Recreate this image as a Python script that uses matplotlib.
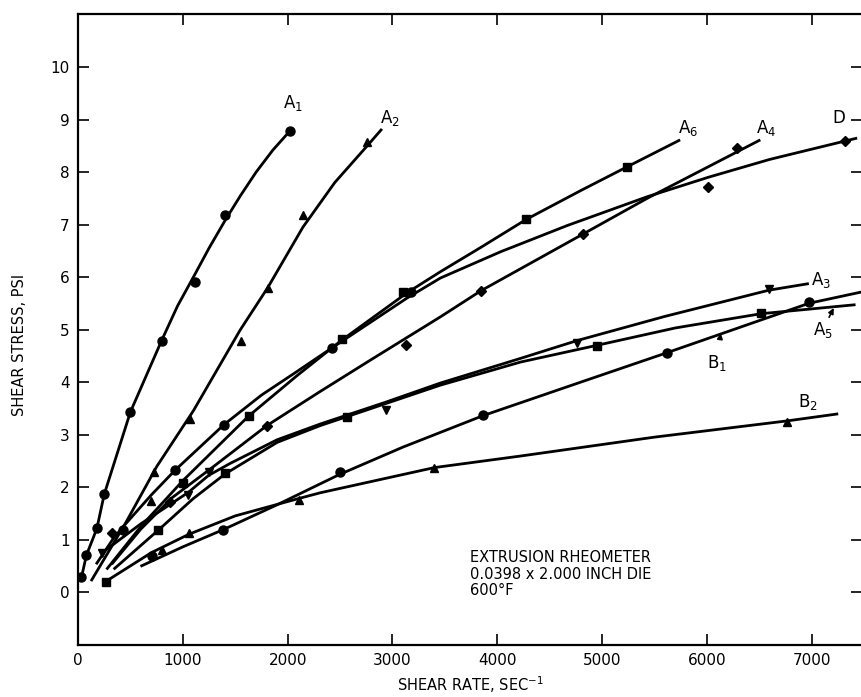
import matplotlib
matplotlib.use("Agg")
import matplotlib.pyplot as plt

plt.rcParams["font.family"] = ["DejaVu Sans"]
plt.rcParams["mathtext.default"] = "regular"

# curve traces (shear rate, shear stress)
a1_x = [30, 80, 180, 250, 500, 800, 950, 1115, 1250, 1404, 1550, 1700, 1860, 2030]
a1_y = [0.25, 0.70, 1.21, 1.86, 3.43, 4.80, 5.45, 6.05, 6.55, 7.08, 7.55, 8.00, 8.42, 8.80]

a2_x = [131, 450, 751, 1100, 1547, 1811, 2146, 2450, 2760, 2891]
a2_y = [0.23, 1.30, 2.39, 3.45, 4.99, 5.80, 6.95, 7.80, 8.50, 8.80]

a6_x = [280, 600, 1000, 1627, 2089, 2518, 3140, 3457, 3840, 4279, 4800, 5240, 5733]
a6_y = [0.45, 1.25, 2.12, 3.35, 4.12, 4.80, 5.70, 6.10, 6.56, 7.10, 7.65, 8.10, 8.60]

d_x = [180, 337, 433, 700, 926, 1394, 1750, 2089, 2423, 3140, 3457, 4031, 4667,
       5432, 6014, 6600, 7421]
d_y = [0.55, 1.02, 1.25, 1.85, 2.32, 3.19, 3.75, 4.20, 4.65, 5.60, 5.98, 6.48, 6.98,
       7.53, 7.90, 8.24, 8.64]

a4_x = [330, 600, 900, 1293, 1802, 2311, 2800, 3457, 3846, 4820, 5432, 6498]
a4_y = [0.55, 1.20, 1.80, 2.39, 3.17, 3.82, 4.43, 5.24, 5.74, 6.82, 7.50, 8.60]

a3_x = [226, 600, 1054, 1245, 1452, 1900, 2311, 2942, 3457, 4222, 4763, 5600, 6594, 6960]
a3_y = [0.74, 1.30, 1.90, 2.22, 2.45, 2.90, 3.20, 3.62, 3.98, 4.45, 4.79, 5.25, 5.75, 5.87]

a5_x = [350, 767, 1100, 1404, 1900, 2311, 2566, 3457, 4222, 4954, 5700, 6514, 7405]
a5_y = [0.45, 1.18, 1.78, 2.25, 2.85, 3.17, 3.34, 3.94, 4.38, 4.70, 5.03, 5.30, 5.47]

b1_x = [608, 1000, 1388, 1898, 2496, 3100, 3865, 4800, 5622, 6975, 7488]
b1_y = [0.50, 0.86, 1.19, 1.66, 2.24, 2.76, 3.36, 4.00, 4.56, 5.50, 5.72]

b2_x = [264, 700, 1058, 1500, 2104, 2311, 3400, 4222, 5500, 6768, 7240]
b2_y = [0.20, 0.75, 1.10, 1.45, 1.78, 1.89, 2.37, 2.59, 2.95, 3.26, 3.39]

# measured points, grouped by marker shape
circle_x = [26, 76, 178, 245, 497, 805, 1115, 1404, 2025,
            433, 926, 1394, 2423, 3180,
            704, 1388, 2496, 3865, 5622, 6975]
circle_y = [0.29, 0.70, 1.21, 1.86, 3.43, 4.79, 5.91, 7.18, 8.78,
            1.18, 2.32, 3.19, 4.65, 5.72,
            0.68, 1.19, 2.28, 3.38, 4.56, 5.53]

square_x = [1000, 1627, 2518, 3100, 4279, 5240,
            767, 1404, 2566, 4954, 6514,
            264]
square_y = [2.08, 3.35, 4.81, 5.72, 7.10, 8.10,
            1.18, 2.27, 3.34, 4.69, 5.31,
            0.20]

tri_up_x = [697, 723, 1070, 1554, 1811, 2146, 2760,
            800, 1058, 2104, 3400, 6768]
tri_up_y = [1.73, 2.28, 3.29, 4.78, 5.79, 7.18, 8.58,
            0.80, 1.12, 1.75, 2.37, 3.24]

tri_down_x = [226, 1054, 1245, 2942, 4763, 6594]
tri_down_y = [0.74, 1.85, 2.29, 3.47, 4.74, 5.78]

diamond_x = [322, 879, 1802, 3133, 3846, 4820, 6285, 6014, 7319]
diamond_y = [1.12, 1.72, 3.17, 4.70, 5.74, 6.82, 8.46, 7.72, 8.60]

x_ticks = [0, 1000, 2000, 3000, 4000, 5000, 6000, 7000]
y_ticks = [0, 1, 2, 3, 4, 5, 6, 7, 8, 9, 10]

fig = plt.figure(figsize=(8.62, 6.97), dpi=100)
ax = fig.add_axes([0.0905, 0.0753, 0.9095, 0.9039])

# fitted curves
for cx, cy in [(a1_x, a1_y), (a2_x, a2_y), (a6_x, a6_y), (d_x, d_y), (a4_x, a4_y),
               (a3_x, a3_y), (a5_x, a5_y), (b1_x, b1_y), (b2_x, b2_y)]:
    ax.plot(cx, cy, color="black", linewidth=2.0, solid_joinstyle="round")

# data points
ax.plot(circle_x, circle_y, "o", color="black", markersize=6.5, linestyle="none")
ax.plot(square_x, square_y, "s", color="black", markersize=5.5, linestyle="none")
ax.plot(tri_up_x, tri_up_y, "^", color="black", markersize=6, linestyle="none")
ax.plot(tri_down_x, tri_down_y, "v", color="black", markersize=6, linestyle="none")
ax.plot(diamond_x, diamond_y, "D", color="black", markersize=5, linestyle="none")

# curve labels
lab = dict(fontsize=12, color="black")
ax.text(2053, 9.31, r"A$_{1}$", ha="center", va="center", **lab)
ax.text(2980, 9.03, r"A$_{2}$", ha="center", va="center", **lab)
ax.text(5817, 8.84, r"A$_{6}$", ha="center", va="center", **lab)
ax.text(6562, 8.84, r"A$_{4}$", ha="center", va="center", **lab)
ax.text(7259, 9.02, "D", ha="center", va="center", **lab)
ax.text(7087, 5.94, r"A$_{3}$", ha="center", va="center", **lab)
ax.text(6963, 3.62, r"B$_{2}$", ha="center", va="center", **lab)
ax.annotate(r"A$_{5}$", xy=(7210, 5.41), xytext=(7106, 4.99), ha="center", va="center",
            arrowprops=dict(arrowstyle="-|>", color="black", lw=1.2, mutation_scale=8,
                            shrinkA=8, shrinkB=0), **lab)
ax.annotate(r"B$_{1}$", xy=(6132, 4.93), xytext=(6094, 4.36), ha="center", va="center",
            arrowprops=dict(arrowstyle="-|>", color="black", lw=1.2, mutation_scale=8,
                            shrinkA=8, shrinkB=0), **lab)

# note block
ax.text(3744, 0.34, "EXTRUSION RHEOMETER\n0.0398 x 2.000 INCH DIE\n600°F",
        ha="left", va="center", fontsize=10.5, linespacing=1.1)

ax.set_xlim(0, 7480)
ax.set_ylim(-1, 11)
ax.set_xticks(x_ticks)
ax.set_xticklabels([str(v) for v in x_ticks])
ax.set_yticks(y_ticks)
ax.set_yticklabels([str(v) for v in y_ticks])
ax.tick_params(direction="in", length=8, width=1.2, labelsize=11, pad=6,
               top=True, right=True)

for side in ["left", "bottom", "top"]:
    ax.spines[side].set_linewidth(1.6)
ax.spines["right"].set_visible(False)

ax.set_xlabel(r"SHEAR RATE, SEC$^{-1}$", fontsize=10.5)
ax.set_ylabel("SHEAR STRESS, PSI", fontsize=10.5)
ax.xaxis.set_label_coords(0.5, -0.047)
ax.yaxis.set_label_coords(-0.065, 0.475)

fig.savefig("out.png", dpi=100)
